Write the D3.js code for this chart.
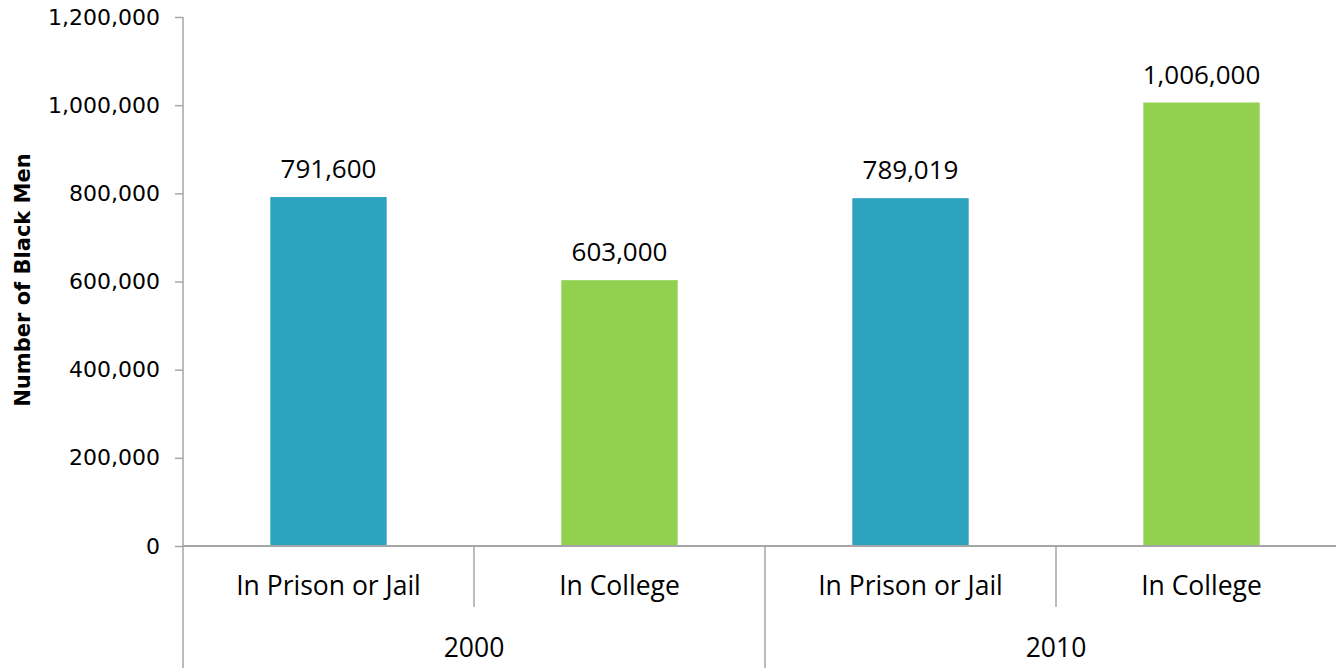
<!DOCTYPE html>
<html>
<head>
<meta charset="utf-8">
<script src="https://cdn.jsdelivr.net/npm/d3@7"></script>
<style>
  body { margin: 0; background: #fff; }
</style>
</head>
<body>
<svg id="svg1" width="1336" height="668"></svg>
<script>
var years = ['2000', '2010'];
var categories = ['In Prison or Jail', 'In College'];
var values = [791600, 603000, 789019, 1006000];
var valueLabels = ['791,600', '603,000', '789,019', '1,006,000'];
var yTicks = [0, 200000, 400000, 600000, 800000, 1000000, 1200000];

var colors = ['#2ea3c0', '#92d050'];

var svg = d3.select('#svg1');

var plotLeft = 183, plotTop = 17, plotBottom = 546, catW = 291;

var rows = [];
years.forEach(function(y, i) {
    categories.forEach(function(c, j) {
        rows.push({year: y, cat: c, key: y + '|' + c, value: values[i * 2 + j], label: valueLabels[i * 2 + j], ci: j});
    });
});

var x = d3.scaleBand()
    .domain(rows.map(function(d) { return d.key; }))
    .range([plotLeft, plotLeft + catW * rows.length])
    .paddingInner(0.6)
    .paddingOuter(0.3);

var y = d3.scaleLinear()
    .domain([0, 1200000])
    .range([plotBottom, plotTop]);

var axisColor = '#a6a6a6';
var labelFont = '"Open Sans", Lato, sans-serif';

// y axis
var yAxis = svg.append('g')
    .attr('transform', 'translate(' + plotLeft + ',0)')
    .call(d3.axisLeft(y).tickValues(yTicks).tickSize(8).tickPadding(15)
        .tickFormat(d3.format(',')));
yAxis.select('.domain').remove();
yAxis.selectAll('line').attr('stroke', axisColor).attr('stroke-width', 1.5);
yAxis.selectAll('text')
    .style('font-family', '"DejaVu Sans", sans-serif')
    .style('font-size', '22px')
    .attr('fill', '#000');

// y axis line down to the bottom of the picture
svg.append('line')
    .attr('x1', plotLeft).attr('x2', plotLeft)
    .attr('y1', plotTop).attr('y2', 668)
    .attr('stroke', axisColor).attr('stroke-width', 1.5);

// bars
svg.selectAll('rect.bar')
    .data(rows)
    .enter()
    .append('rect')
    .attr('class', 'bar')
    .attr('x', function(d) { return x(d.key); })
    .attr('width', x.bandwidth())
    .attr('y', function(d) { return y(d.value); })
    .attr('height', function(d) { return y(0) - y(d.value); })
    .style('fill', function(d) { return colors[d.ci]; });

// value labels
svg.selectAll('text.val')
    .data(rows)
    .enter()
    .append('text')
    .attr('class', 'val')
    .attr('x', function(d) { return x(d.key) + x.bandwidth() / 2; })
    .attr('y', function(d) { return y(d.value) - 19; })
    .attr('text-anchor', 'middle')
    .style('font-family', labelFont)
    .style('font-size', '26px')
    .text(function(d) { return d.label; });

// x axis line
svg.append('line')
    .attr('x1', plotLeft).attr('x2', 1336)
    .attr('y1', plotBottom).attr('y2', plotBottom)
    .attr('stroke', axisColor).attr('stroke-width', 2);

// category separators
rows.forEach(function(d, i) {
    if (i === 0) return;
    var sx = plotLeft + catW * i;
    var long = i % 2 === 0;
    svg.append('line')
        .attr('x1', sx).attr('x2', sx)
        .attr('y1', plotBottom).attr('y2', long ? 668 : 607)
        .attr('stroke', axisColor).attr('stroke-width', 1.5);
});

// category labels
svg.selectAll('text.cat')
    .data(rows)
    .enter()
    .append('text')
    .attr('class', 'cat')
    .attr('x', function(d) { return x(d.key) + x.bandwidth() / 2; })
    .attr('y', 595)
    .attr('text-anchor', 'middle')
    .style('font-family', labelFont)
    .style('font-size', '26.5px')
    .text(function(d) { return d.cat; });

// year labels
svg.selectAll('text.year')
    .data(years)
    .enter()
    .append('text')
    .attr('class', 'year')
    .attr('x', function(d, i) { return plotLeft + catW * (i * 2 + 1); })
    .attr('y', 657)
    .attr('text-anchor', 'middle')
    .style('font-family', labelFont)
    .style('font-size', '26.5px')
    .text(function(d) { return d; });

// y axis title
svg.append('text')
    .attr('transform', 'translate(' + [30, 280] + ') rotate(270)')
    .attr('text-anchor', 'middle')
    .style('font-family', '"DejaVu Sans", sans-serif')
    .style('font-weight', 'bold')
    .style('font-size', '21px')
    .text('Number of Black Men');
</script>
</body>
</html>
